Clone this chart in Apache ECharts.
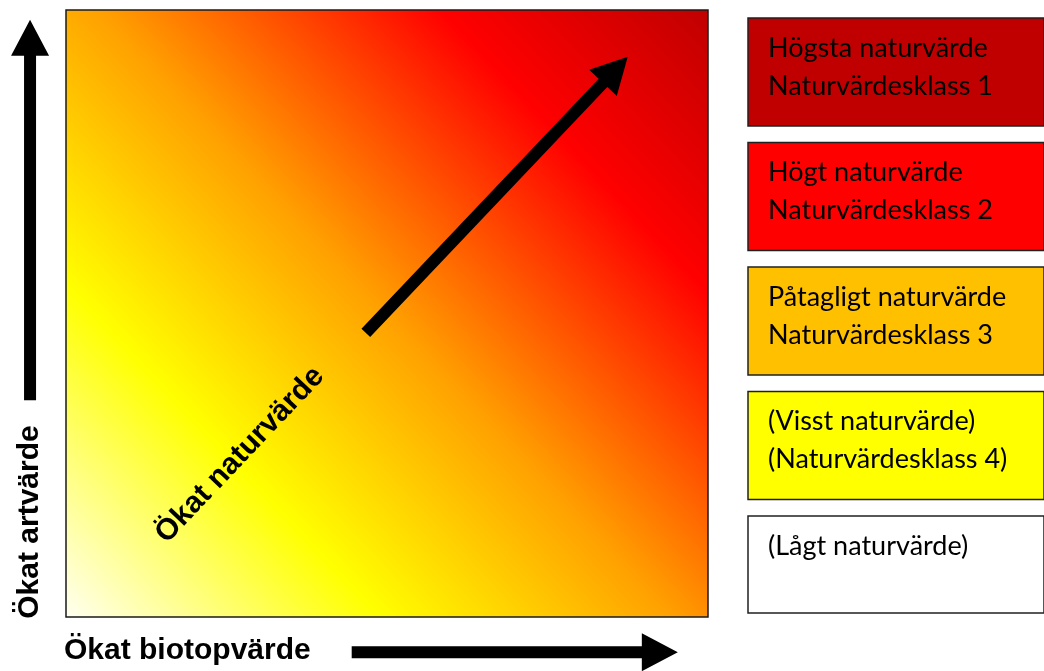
<!DOCTYPE html>
<html>
<head>
<meta charset="utf-8">
<script src="https://cdn.jsdelivr.net/npm/echarts@6/dist/echarts.min.js"></script>
<style>
  html, body { margin: 0; padding: 0; background: #fff; }
  #chart { width: 1044px; height: 671px; }
</style>
</head>
<body>
<div id="chart"></div>
<script>
// classes shown in the key on the right, highest first
const classNames = [
  'Högsta naturvärde\nNaturvärdesklass 1',
  'Högt naturvärde\nNaturvärdesklass 2',
  'Påtagligt naturvärde\nNaturvärdesklass 3',
  '(Visst naturvärde)\n(Naturvärdesklass 4)',
  '(Lågt naturvärde)'
];
const classColors = ['#c00000', '#ff0000', '#ffc000', '#ffff00', '#ffffff'];

// colour ramp of the field, low (bottom left) to high (top right)
const rampOffsets = [0, 0.26, 0.5, 0.78, 1];
const rampColors = ['#fffff2', '#ffff00', '#ffa000', '#ff0000', '#c00000'];

// the field, in field units 0-100 on both axes
const field = [[0, 0, 100, 100]];

// arrows in field units: [x0, y0, x1 (tip), y1 (tip)]
const arrows = [
  [46.7, 46.8, 87.5, 92.3],
  [-5.6, 35.7, -5.6, 98.4],
  [44.5, -5.8, 95.3, -5.8]
];

const titles = ['Ökat artvärde', 'Ökat biotopvärde', 'Ökat naturvärde'];

const chart = echarts.init(document.getElementById('chart'));

function renderField(params, api) {
  const a = api.coord([api.value(0), api.value(1)]);
  const b = api.coord([api.value(2), api.value(3)]);
  return {
    type: 'rect',
    shape: { x: a[0], y: b[1], width: b[0] - a[0], height: a[1] - b[1] },
    style: {
      fill: new echarts.graphic.LinearGradient(0, 1, 1, 0,
        rampOffsets.map((o, i) => ({ offset: o, color: rampColors[i] }))),
      stroke: '#1a1a1a',
      lineWidth: 1.5
    }
  };
}

function renderArrow(params, api) {
  const p0 = api.coord([api.value(0), api.value(1)]);
  const p1 = api.coord([api.value(2), api.value(3)]);
  const dx = p1[0] - p0[0], dy = p1[1] - p0[1];
  const len = Math.hypot(dx, dy);
  const ux = dx / len, uy = dy / len;
  const nx = -uy, ny = ux;
  const head = 36, hw = 19, sw = 6;
  const bx = p1[0] - ux * head, by = p1[1] - uy * head;
  return {
    type: 'polygon',
    shape: {
      points: [
        [p0[0] + nx * sw, p0[1] + ny * sw],
        [bx + nx * sw, by + ny * sw],
        [bx + nx * hw, by + ny * hw],
        p1,
        [bx - nx * hw, by - ny * hw],
        [bx - nx * sw, by - ny * sw],
        [p0[0] - nx * sw, p0[1] - ny * sw]
      ]
    },
    style: { fill: '#000' }
  };
}

function renderKey(params, api) {
  const i = api.value(1);
  const c = api.coord([0, i]);
  const w = api.coord([1, i])[0] - c[0];
  const lines = classNames[i].split('\n').length;
  const top = c[1] - 54;
  return {
    type: 'group',
    children: [
      {
        type: 'rect',
        shape: { x: c[0], y: top, width: w, height: lines > 1 ? 108 : 97 },
        style: { fill: classColors[i], stroke: '#202020', lineWidth: 1.5 }
      },
      {
        type: 'text',
        x: c[0] + 20,
        y: top + 11,
        style: {
          text: classNames[i],
          fill: '#000',
          font: '27px Lato',
          lineHeight: 38,
          verticalAlign: 'top',
          align: 'left'
        }
      }
    ]
  };
}

const boldFont = 'bold 30px "Liberation Sans", Arial, sans-serif';

const option = {
  animation: false,
  backgroundColor: '#fff',
  grid: [
    { left: 66, top: 10, width: 642, height: 607 },
    { left: 748, top: 9.75, width: 320, height: 622.5 }
  ],
  xAxis: [
    { gridIndex: 0, type: 'value', min: 0, max: 100, show: false },
    { gridIndex: 1, type: 'value', min: 0, max: 1, show: false }
  ],
  yAxis: [
    { gridIndex: 0, type: 'value', min: 0, max: 100, show: false },
    { gridIndex: 1, type: 'category', data: classNames, inverse: true, show: false }
  ],
  series: [
    {
      type: 'custom',
      xAxisIndex: 0, yAxisIndex: 0,
      renderItem: renderField,
      data: field,
      clip: false,
      silent: true
    },
    {
      type: 'custom',
      xAxisIndex: 0, yAxisIndex: 0,
      renderItem: renderArrow,
      data: arrows,
      clip: false,
      silent: true,
      z: 5
    },
    {
      type: 'custom',
      xAxisIndex: 1, yAxisIndex: 1,
      renderItem: renderKey,
      data: classNames.map((n, i) => [0, i]),
      clip: false,
      silent: true
    }
  ],
  graphic: [
    {
      type: 'text', x: 30, y: 522, rotation: Math.PI / 2, z: 10,
      style: { text: titles[0], font: boldFont, fill: '#000', align: 'center', verticalAlign: 'middle' }
    },
    {
      type: 'text', x: 64, y: 651, z: 10,
      style: { text: titles[1], font: boldFont, fill: '#000', align: 'left', verticalAlign: 'middle' }
    },
    {
      type: 'text', x: 240, y: 455, rotation: 46.5 * Math.PI / 180, z: 10,
      style: { text: titles[2], font: boldFont, fill: '#000', align: 'center', verticalAlign: 'middle' }
    }
  ]
};

chart.setOption(option);
</script>
</body>
</html>
